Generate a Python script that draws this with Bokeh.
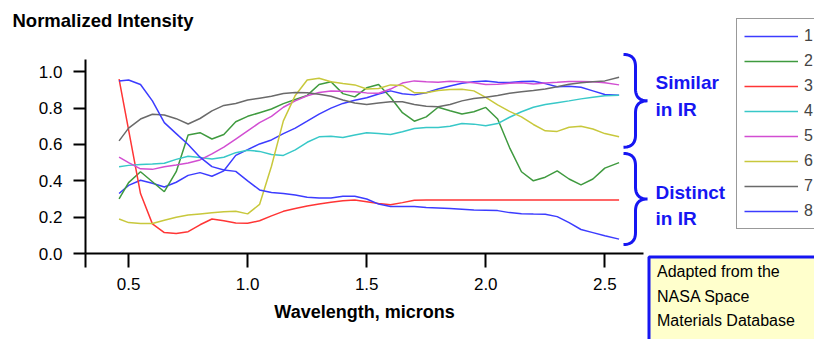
import numpy as np
from bokeh.plotting import figure
from bokeh.models import (Range1d, FixedTicker, PrintfTickFormatter, CustomJSTickFormatter,
                          Label, Legend, LegendItem)
from bokeh.embed import file_html
from bokeh.resources import INLINE

# ---------------- data ----------------
wavelength = [0.46, 0.50, 0.55, 0.60, 0.65, 0.70, 0.75, 0.80, 0.85, 0.90, 0.95,
              1.00, 1.05, 1.10, 1.15, 1.20, 1.25, 1.30, 1.35, 1.40, 1.45,
              1.50, 1.55, 1.60, 1.65, 1.70, 1.75, 1.80, 1.85, 1.90, 1.95,
              2.00, 2.05, 2.10, 2.15, 2.20, 2.25, 2.30, 2.35, 2.40, 2.45,
              2.50, 2.56]

s1 = [0.33, 0.375, 0.403, 0.387, 0.366, 0.392, 0.43, 0.445, 0.425, 0.455, 0.54,
      0.572, 0.603, 0.625, 0.66, 0.69, 0.728, 0.767, 0.80, 0.826, 0.843,
      0.857, 0.878, 0.895, 0.879, 0.873, 0.885, 0.905, 0.922, 0.937, 0.945,
      0.95, 0.942, 0.941, 0.947, 0.948, 0.935, 0.918, 0.92, 0.915, 0.895,
      0.875, 0.871]
s2 = [0.30, 0.39, 0.45, 0.395, 0.34, 0.45, 0.652, 0.665, 0.63, 0.655, 0.725,
      0.755, 0.775, 0.795, 0.825, 0.848, 0.87, 0.93, 0.945, 0.88, 0.862,
      0.912, 0.93, 0.86, 0.775, 0.728, 0.752, 0.805, 0.786, 0.768, 0.78,
      0.804, 0.74, 0.583, 0.45, 0.40, 0.42, 0.455, 0.41, 0.378, 0.41,
      0.47, 0.50]
s3 = [0.96, 0.68, 0.33, 0.163, 0.115, 0.11, 0.12, 0.158, 0.19, 0.18, 0.168,
      0.166, 0.18, 0.207, 0.232, 0.248, 0.262, 0.272, 0.282, 0.29, 0.294,
      0.285, 0.275, 0.268, 0.28, 0.293, 0.295, 0.295, 0.295, 0.295, 0.295,
      0.295, 0.295, 0.295, 0.295, 0.295, 0.295, 0.295, 0.295, 0.295, 0.295,
      0.295, 0.295]
s4 = [0.478, 0.485, 0.49, 0.493, 0.497, 0.518, 0.535, 0.528, 0.52, 0.53, 0.555,
      0.568, 0.562, 0.545, 0.54, 0.57, 0.612, 0.642, 0.645, 0.638, 0.652,
      0.664, 0.66, 0.655, 0.67, 0.688, 0.694, 0.694, 0.70, 0.715, 0.712,
      0.703, 0.715, 0.75, 0.78, 0.805, 0.82, 0.83, 0.84, 0.851, 0.86,
      0.868, 0.871]
s5 = [0.53, 0.50, 0.466, 0.463, 0.477, 0.487, 0.498, 0.515, 0.548, 0.585, 0.63,
      0.675, 0.72, 0.755, 0.805, 0.84, 0.868, 0.886, 0.894, 0.893, 0.89,
      0.884, 0.882, 0.905, 0.938, 0.95, 0.945, 0.942, 0.948, 0.945, 0.94,
      0.93, 0.932, 0.937, 0.94, 0.933, 0.938, 0.942, 0.947, 0.947, 0.945,
      0.94, 0.928]
s6 = [0.19, 0.17, 0.165, 0.165, 0.183, 0.20, 0.212, 0.218, 0.224, 0.23, 0.233,
      0.218, 0.27, 0.48, 0.73, 0.87, 0.955, 0.965, 0.945, 0.935, 0.928,
      0.905, 0.908, 0.928, 0.925, 0.885, 0.885, 0.897, 0.903, 0.904, 0.895,
      0.859, 0.818, 0.782, 0.752, 0.71, 0.675, 0.672, 0.695, 0.70, 0.685,
      0.66, 0.642]
s7 = [0.62, 0.69, 0.74, 0.766, 0.762, 0.742, 0.713, 0.743, 0.785, 0.815, 0.826,
      0.845, 0.855, 0.865, 0.88, 0.886, 0.885, 0.877, 0.865, 0.845, 0.828,
      0.82, 0.828, 0.835, 0.835, 0.82, 0.81, 0.808, 0.82, 0.84, 0.853,
      0.86, 0.87, 0.882, 0.89, 0.897, 0.905, 0.918, 0.932, 0.94, 0.945,
      0.95, 0.97]
s8 = [0.95, 0.955, 0.93, 0.84, 0.72, 0.66, 0.60, 0.53, 0.478, 0.46, 0.452,
      0.40, 0.35, 0.336, 0.33, 0.322, 0.31, 0.305, 0.305, 0.315, 0.315,
      0.30, 0.272, 0.259, 0.259, 0.258, 0.253, 0.251, 0.248, 0.244, 0.24,
      0.238, 0.236, 0.225, 0.219, 0.217, 0.216, 0.203, 0.17, 0.132, 0.115,
      0.098, 0.079]

series_names = ["1", "2", "3", "4", "5", "6", "7", "8"]
series_values = [s1, s2, s3, s4, s5, s6, s7, s8]
series_colors = ["#3c3cff", "#3f9a3f", "#ff3535", "#38c8c8",
                 "#d24ed2", "#c8c83c", "#6a6a6a", "#3c3cff"]

x_ticks = [0.5, 1.0, 1.5, 2.0, 2.5]
y_ticks = [0.0, 0.2, 0.4, 0.6, 0.8, 1.0]

# ---------------- layout (canvas pixels == page pixels) ----------------
W, H = 814, 339
PX_X = 238.1          # pixels per micron
PX_Y = 181.7          # pixels per intensity unit
X0 = 0.319            # wavelength at the y axis
AXIS_PAGE_X, AXIS_PAGE_Y = 85, 253


def px_to_x(px):
    return X0 + (px - AXIS_PAGE_X) / PX_X


def py_to_y(py):
    return (AXIS_PAGE_Y - py) / PX_Y


FONT = "Liberation Sans"

p = figure(width=W, height=H, output_backend="svg", toolbar_location=None,
           x_range=Range1d(px_to_x(0), px_to_x(W)),
           y_range=Range1d(py_to_y(H), py_to_y(0)),
           min_border=0, title=None)
p.outline_line_color = None
p.grid.visible = False
p.background_fill_color = "white"
p.border_fill_color = "white"

# x axis, drawn at intensity 0
xa = p.xaxis[0]
xa.fixed_location = 0
xa.bounds = (X0, px_to_x(643))
xa.ticker = FixedTicker(ticks=[X0 + 0.0005] + x_ticks)
xa.formatter = CustomJSTickFormatter(code="return tick < 0.4 ? '' : tick.toFixed(1);")
xa.axis_line_width = 2
xa.major_tick_line_width = 2
xa.major_tick_out = 14
xa.major_tick_in = 0
xa.minor_tick_line_color = None
xa.major_label_standoff = 10
xa.major_label_text_font = FONT
xa.major_label_text_font_size = "17px"
xa.major_label_text_color = "black"
xa.axis_label = "Wavelength, microns"
xa.axis_label_text_font = FONT
xa.axis_label_text_font_size = "18px"
xa.axis_label_text_font_style = "bold"
xa.axis_label_text_color = "black"
xa.axis_label_standoff = 9

# y axis, drawn at the left end of the wavelength axis
ya = p.yaxis[0]
ya.fixed_location = X0
ya.bounds = (0, py_to_y(59.3))
ya.ticker = FixedTicker(ticks=y_ticks)
ya.formatter = PrintfTickFormatter(format="%.1f")
ya.axis_line_width = 2
ya.major_tick_line_width = 2
ya.major_tick_out = 12
ya.major_tick_in = 0
ya.minor_tick_line_color = None
ya.major_label_standoff = 11
ya.major_label_text_font = FONT
ya.major_label_text_font_size = "17px"
ya.major_label_text_color = "black"

# series
items = []
for name, vals, col in zip(series_names, series_values, series_colors):
    r = p.line(wavelength, vals, line_color=col, line_width=1.5)
    items.append(LegendItem(label=name, renderers=[r]))

legend = Legend(items=items, location=(736, H - 229),
                orientation="vertical", padding=7, margin=0, spacing=5,
                glyph_width=54, glyph_height=20, label_height=20,
                label_standoff=6, label_text_font=FONT,
                label_text_font_size="16px", border_line_color="#333333",
                border_line_width=1, background_fill_color="white",
                background_fill_alpha=1.0)
p.add_layout(legend)

# braces
BLUE = "#1616f2"


def brace(x_body, y_top, y_bot, hook_px=12):
    dx = hook_px / PX_X
    dy = hook_px / PX_Y
    ym = (y_top + y_bot) / 2
    t = np.linspace(0, 1, 14)

    def quad(a, c, b):
        return ((1 - t) ** 2 * a[0] + 2 * (1 - t) * t * c[0] + t ** 2 * b[0],
                (1 - t) ** 2 * a[1] + 2 * (1 - t) * t * c[1] + t ** 2 * b[1])

    parts = [
        quad((x_body - dx, y_top), (x_body, y_top), (x_body, y_top - dy)),
        quad((x_body, ym + dy), (x_body, ym), (x_body + dx, ym)),
        quad((x_body + dx, ym), (x_body, ym), (x_body, ym - dy)),
        quad((x_body, y_bot + dy), (x_body, y_bot), (x_body - dx, y_bot)),
    ]
    xs = np.concatenate([pp[0] for pp in parts])
    ys = np.concatenate([pp[1] for pp in parts])
    return xs, ys


for top_py, bot_py in [(54, 146.7), (153, 244)]:
    bx, by = brace(px_to_x(635), py_to_y(top_py), py_to_y(bot_py))
    p.line(bx, by, line_color=BLUE, line_width=3)

# side texts
for txt, py in [("Similar", 82), ("in IR", 109), ("Distinct", 192), ("in IR", 218)]:
    p.add_layout(Label(x=px_to_x(655), y=py_to_y(py), text=txt,
                       text_baseline="middle", text_align="left",
                       text_font=FONT, text_font_size="19px",
                       text_font_style="bold", text_color=BLUE))

# title
p.add_layout(Label(x=px_to_x(12), y=py_to_y(20), text="Normalized Intensity",
                   text_baseline="middle", text_align="left", text_font=FONT,
                   text_font_size="18.5px", text_font_style="bold",
                   text_color="black"))

# source box (anchor point is the box's top-left corner)
p.add_layout(Label(x=px_to_x(648.5), y=py_to_y(256.5),
                   text="Adapted from the\nNASA Space\nMaterials Database",
                   text_baseline="top", text_align="left", text_font=FONT,
                   text_font_size="16px", text_color="black",
                   text_line_height=1.45,
                   background_fill_color="#ffffcc", background_fill_alpha=1.0,
                   border_line_color=BLUE, border_line_width=3,
                   padding=dict(left=8, right=60, top=6, bottom=40)))

open("out.html", "w").write(file_html(p, INLINE))
